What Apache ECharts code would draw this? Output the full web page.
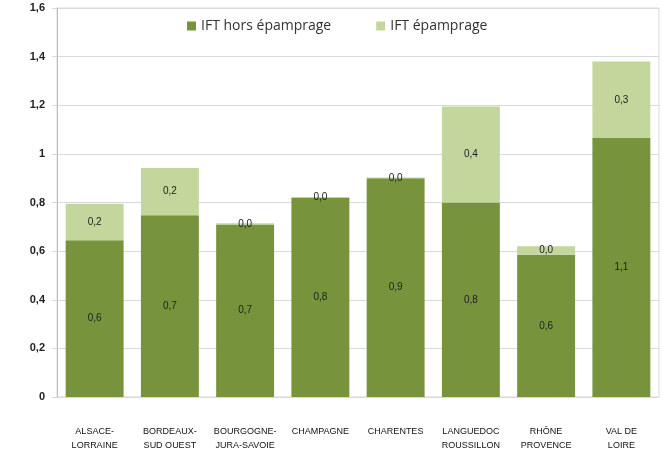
<!DOCTYPE html>
<html>
<head>
<meta charset="utf-8">
<script src="https://cdn.jsdelivr.net/npm/echarts@6/dist/echarts.min.js"></script>
<style>
  html, body { margin: 0; padding: 0; background: #fff; }
  #chart { width: 663px; height: 449px; }
</style>
</head>
<body>
<div id="chart"></div>
<script>
const regions = [
  'ALSACE-\nLORRAINE', 'BORDEAUX-\nSUD OUEST', 'BOURGOGNE-\nJURA-SAVOIE', 'CHAMPAGNE',
  'CHARENTES', 'LANGUEDOC\nROUSSILLON', 'RHÔNE\nPROVENCE', 'VAL DE\nLOIRE'
]
const horsEpamprage = [0.645, 0.748, 0.71, 0.818, 0.9, 0.80, 0.585, 1.065]
const epamprage = [0.15, 0.194, 0.005, 0.005, 0.003, 0.395, 0.035, 0.315]
const yTicks = [0, 0.2, 0.4, 0.6, 0.8, 1, 1.2, 1.4, 1.6]

const fmt = v => (Math.round(v * 10 + 1e-6) / 10).toFixed(1).replace('.', ',')

const chart = echarts.init(document.getElementById('chart'))
chart.setOption({
  animation: false,
  textStyle: { fontFamily: 'Liberation Sans' },
  legend: {
    top: 14,
    left: 182,
    itemWidth: 9,
    itemHeight: 9,
    itemGap: 45,
    icon: 'rect',
    textStyle: { fontSize: 14, color: '#333', fontFamily: 'Open Sans' },
  },
  grid: {
    left: 57, right: 4, top: 8, bottom: 52,
    outerBoundsMode: 'none',
    show: true, borderColor: '#d9d9d9', borderWidth: 1,
  },
  xAxis: {
    type: 'category',
    data: regions,
    axisLine: { lineStyle: { color: '#d9d9d9' } },
    axisTick: { show: false },
    axisLabel: {
      fontSize: 9,
      color: '#111',
      margin: 28,
      lineHeight: 14,
      interval: 0,
      verticalAlign: 'top',
    },
  },
  yAxis: {
    type: 'value',
    min: 0,
    max: 1.6,
    interval: 0.2,
    axisLine: { show: true, lineStyle: { color: '#bfbfbf' } },
    axisTick: { show: true, length: 5, lineStyle: { color: '#d9d9d9' } },
    splitLine: { lineStyle: { color: '#d9d9d9' } },
    axisLabel: {
      fontSize: 11,
      fontWeight: 'bold',
      color: '#222',
      margin: 12,
      formatter: v => {
        const t = yTicks.find(x => Math.abs(x - v) < 1e-6)
        return String(t !== undefined ? t : v).replace('.', ',')
      },
    },
  },
  series: [
    {
      name: 'IFT hors épamprage',
      type: 'bar',
      stack: 'ift',
      data: horsEpamprage,
      barCategoryGap: '23%',
      itemStyle: { color: '#77933c' },
      label: {
        show: true, position: 'inside', fontSize: 10, color: '#222',
        formatter: p => fmt(p.value),
      },
    },
    {
      name: 'IFT épamprage',
      type: 'bar',
      stack: 'ift',
      data: epamprage,
      itemStyle: { color: '#c3d69b' },
      label: {
        show: true, position: 'inside', fontSize: 10, color: '#222',
        formatter: p => fmt(p.value),
      },
    },
  ],
})
</script>
</body>
</html>
